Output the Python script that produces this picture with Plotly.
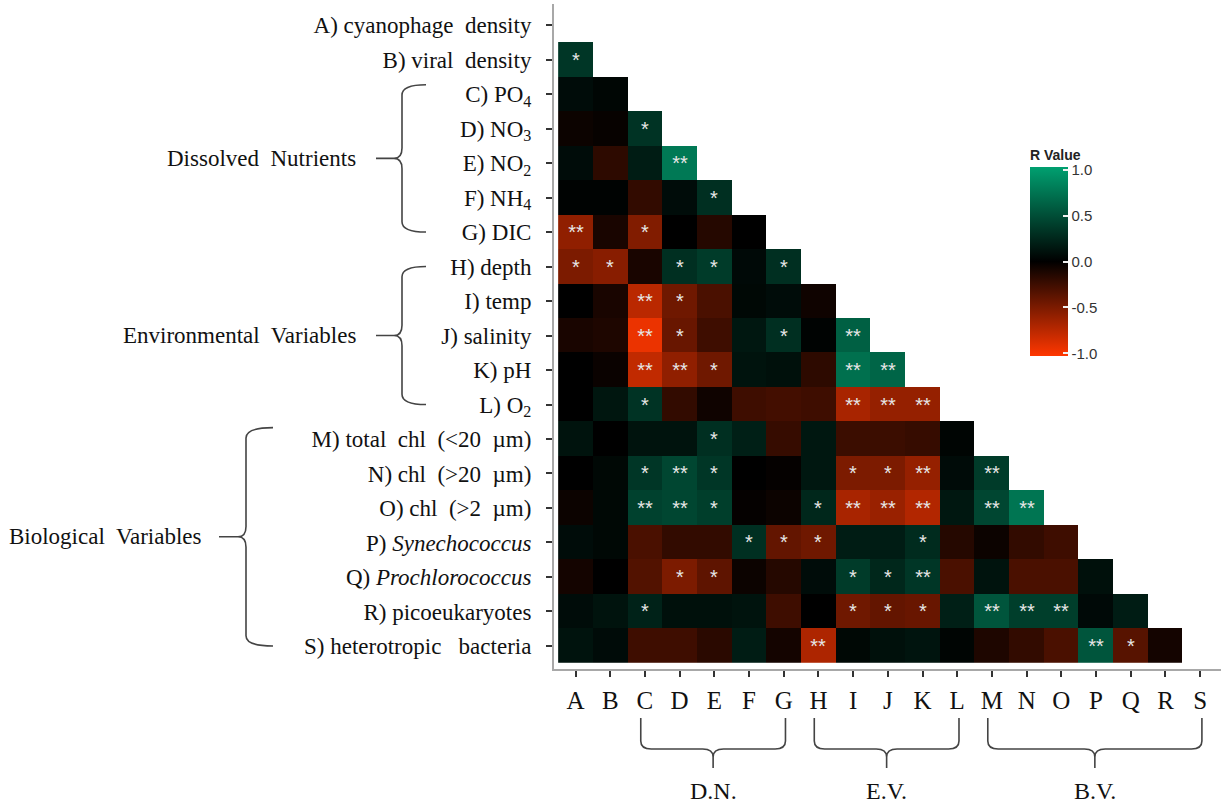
import plotly.graph_objects as go

# ---------------- data ----------------
codes = ["A", "B", "C", "D", "E", "F", "G", "H", "I", "J", "K", "L", "M", "N", "O", "P", "Q", "R", "S"]
var_names = ["cyanophage  density", "viral  density", "PO<sub>4</sub>", "NO<sub>3</sub>", "NO<sub>2</sub>",
             "NH<sub>4</sub>", "DIC", "depth", "temp", "salinity", "pH", "O<sub>2</sub>",
             "total  chl  (&lt;20  µm)", "chl  (&gt;20  µm)", "chl  (&gt;2  µm)", "<i>Synechococcus</i>",
             "<i>Prochlorococcus</i>", "picoeukaryotes", "heterotropic   bacteria"]

# lower-triangle R values (row variable vs. columns A.. up to the previous variable)
r_A = []
r_B = [0.35]
r_C = [0.08, 0.04]
r_D = [-0.05, -0.03, 0.33]
r_E = [0.08, -0.18, 0.18, 0.78]
r_F = [0.02, 0.02, -0.2, 0.08, 0.3]
r_G = [-0.58, -0.1, -0.52, 0.0, -0.15, 0.0]
r_H = [-0.5, -0.55, -0.1, 0.3, 0.38, 0.06, 0.3]
r_I = [0.0, -0.1, -0.75, -0.45, -0.3, 0.05, 0.08, -0.06]
r_J = [-0.1, -0.12, -0.95, -0.42, -0.25, 0.15, 0.3, 0.02, 0.62]
r_K = [0.0, -0.04, -0.78, -0.58, -0.45, 0.12, 0.1, -0.18, 0.72, 0.65]
r_L = [0.0, 0.14, 0.33, -0.2, -0.06, -0.25, -0.27, -0.25, -0.68, -0.6, -0.6]
r_M = [0.12, 0.0, 0.12, 0.12, 0.3, 0.2, -0.22, 0.15, -0.24, -0.24, -0.22, 0.03]
r_N = [0.0, 0.05, 0.35, 0.45, 0.35, 0.0, -0.02, 0.15, -0.5, -0.5, -0.6, 0.07, 0.38]
r_O = [-0.05, 0.05, 0.42, 0.45, 0.4, -0.02, -0.05, 0.25, -0.68, -0.62, -0.72, 0.15, 0.45, 0.75]
r_P = [0.08, 0.05, -0.3, -0.2, -0.2, 0.3, -0.4, -0.45, 0.18, 0.18, 0.28, -0.15, -0.05, -0.2, -0.25]
r_Q = [-0.08, 0.0, -0.33, -0.5, -0.38, -0.05, -0.15, 0.08, 0.38, 0.25, 0.35, -0.3, 0.12, -0.3, -0.3, 0.1]
r_R = [0.08, 0.12, 0.22, 0.1, 0.1, 0.12, -0.25, 0.0, -0.45, -0.4, -0.42, 0.2, 0.55, 0.4, 0.4, 0.06, 0.18]
r_S = [0.12, 0.07, -0.25, -0.25, -0.17, 0.18, -0.08, -0.7, 0.05, 0.1, 0.13, 0.03, -0.12, -0.2, -0.3, 0.55, -0.35, -0.08]

# significance marks
s_A = []
s_B = ["*"]
s_C = ["", ""]
s_D = ["", "", "*"]
s_E = ["", "", "", "**"]
s_F = ["", "", "", "", "*"]
s_G = ["**", "", "*", "", "", ""]
s_H = ["*", "*", "", "*", "*", "", "*"]
s_I = ["", "", "**", "*", "", "", "", ""]
s_J = ["", "", "**", "*", "", "", "*", "", "**"]
s_K = ["", "", "**", "**", "*", "", "", "", "**", "**"]
s_L = ["", "", "*", "", "", "", "", "", "**", "**", "**"]
s_M = ["", "", "", "", "*", "", "", "", "", "", "", ""]
s_N = ["", "", "*", "**", "*", "", "", "", "*", "*", "**", "", "**"]
s_O = ["", "", "**", "**", "*", "", "", "*", "**", "**", "**", "", "**", "**"]
s_P = ["", "", "", "", "", "*", "*", "*", "", "", "*", "", "", "", ""]
s_Q = ["", "", "", "*", "*", "", "", "", "*", "*", "**", "", "", "", "", ""]
s_R = ["", "", "*", "", "", "", "", "", "*", "*", "*", "", "**", "**", "**", "", ""]
s_S = ["", "", "", "", "", "", "", "**", "", "", "", "", "", "", "", "**", "*", ""]

row_values = [r_A, r_B, r_C, r_D, r_E, r_F, r_G, r_H, r_I, r_J, r_K, r_L, r_M, r_N, r_O, r_P, r_Q, r_R, r_S]
row_marks = [s_A, s_B, s_C, s_D, s_E, s_F, s_G, s_H, s_I, s_J, s_K, s_L, s_M, s_N, s_O, s_P, s_Q, s_R, s_S]

y_groups = [("Dissolved  Nutrients", 2, 6), ("Environmental  Variables", 7, 11), ("Biological  Variables", 12, 18)]
x_groups = [("D.N.", 2, 6), ("E.V.", 7, 11), ("B.V.", 12, 18)]

# ---------------- build matrices ----------------
n = len(codes)
z = [[None] * n for _ in range(n)]
txt = [[""] * n for _ in range(n)]
for i in range(n):
    for j, v in enumerate(row_values[i]):
        z[i][j] = v
        txt[i][j] = row_marks[i][j]

ticktext_y = [f"{c}) {nm}" for c, nm in zip(codes, var_names)]

# ---------------- layout geometry ----------------
W, H = 1225, 807
ML, MR, MT, MB = 554, 4, 4, 138
PW = W - ML - MR
PH = H - MT - MB


def px_x(px):
    return (px - ML) / PW


def px_y(py):
    return (H - MB - py) / PH


serif = "Liberation Serif"
sans = "Liberation Sans"

colorscale = [[0.0, "rgb(255,55,0)"], [0.5, "rgb(0,0,0)"], [1.0, "rgb(0,160,112)"]]

fig = go.Figure()
fig.add_trace(go.Heatmap(
    x=list(range(n)), y=list(range(n)), z=z, text=txt,
    texttemplate="%{text}",
    textfont=dict(family=sans, size=20, color="#e6e6e6"),
    colorscale=colorscale, zmin=-1.03, zmax=1.03,
    hoverongaps=False, xgap=0, ygap=0,
    colorbar=dict(
        title=dict(text="<b>R Value</b>", side="top", font=dict(family=sans, size=14, color="#222")),
        x=px_x(1030), xanchor="left", xpad=0,
        y=px_y(251), yanchor="middle", ypad=0,
        len=210, lenmode="pixels", thickness=38, thicknessmode="pixels",
        tickvals=[-1, -0.5, 0, 0.5, 1], ticktext=["-1.0", "-0.5", "0.0", "0.5", "1.0"],
        ticks="inside", ticklen=5, tickcolor="#f0f0f0", tickwidth=2,
        tickfont=dict(family=sans, size=15, color="#333"),
        outlinewidth=0,
    ),
))

shapes = []
annotations = []

# left braces
brace_pos = {
    "Dissolved  Nutrients": (426, 402, 376, 358, -0.27),
    "Environmental  Variables": (426, 402, 376, 358, 0.0),
    "Biological  Variables": (273, 246, 219, 204, -0.33),
}
for name, a, b in y_groups:
    xarm, xv, xtip, xtext, off = brace_pos[name]
    y0, y1 = a + off, b
    ym = (y0 + y1) / 2
    d = 0.3
    XA, XV, XT = px_x(xarm), px_x(xv), px_x(xtip)
    XC = px_x(xv - 8)
    path = (f"M {XA},{y0} Q {XV},{y0} {XV},{y0 + d} L {XV},{ym - d} "
            f"Q {XV},{ym} {XC},{ym} L {XT},{ym} M {XC},{ym} Q {XV},{ym} {XV},{ym + d} "
            f"L {XV},{y1 - d} Q {XV},{y1} {XA},{y1}")
    shapes.append(dict(type="path", path=path, xref="paper", yref="y",
                       line=dict(color="#444", width=1.6)))
    annotations.append(dict(text=name, x=px_x(xtext), y=ym, xref="paper", yref="y",
                            xanchor="right", yanchor="middle", showarrow=False,
                            font=dict(family=serif, size=23, color="#111")))

# bottom braces
yt, yh, ytip, ytext = px_y(718), px_y(749), px_y(768), px_y(791)
r = 8 / PH
for name, a, b in x_groups:
    x0, x1 = a - 0.12, b + 0.05
    xm = (x0 + x1) / 2
    dx = 0.3
    path = (f"M {x0},{yt} L {x0},{yh + r} Q {x0},{yh} {x0 + dx},{yh} L {xm - dx},{yh} "
            f"Q {xm},{yh} {xm},{yh - r} L {xm},{ytip} M {xm},{yh - r} Q {xm},{yh} {xm + dx},{yh} "
            f"L {x1 - dx},{yh} Q {x1},{yh} {x1},{yh + r} L {x1},{yt}")
    shapes.append(dict(type="path", path=path, xref="x", yref="paper",
                       line=dict(color="#444", width=1.6)))
    annotations.append(dict(text=name, x=xm, y=ytext, xref="x", yref="paper",
                            xanchor="center", yanchor="middle", showarrow=False,
                            font=dict(family=serif, size=24, color="#111")))

fig.update_layout(
    width=W, height=H,
    margin=dict(l=ML, r=MR, t=MT, b=MB),
    paper_bgcolor="white", plot_bgcolor="white",
    shapes=shapes, annotations=annotations,
    xaxis=dict(range=[-0.62, 18.6], tickmode="array", tickvals=list(range(n)), ticktext=codes,
               showgrid=False, zeroline=False, showline=True, linecolor="#a8a8a8", linewidth=2,
               ticks="outside", ticklen=6, tickwidth=2, tickcolor="#333",
               tickfont=dict(family=serif, size=25, color="#111"), ticklabelstandoff=2),
    yaxis=dict(range=[18.667, -0.609], tickmode="array", tickvals=list(range(n)), ticktext=ticktext_y,
               showgrid=False, zeroline=False, showline=True, linecolor="#a8a8a8", linewidth=2,
               ticks="outside", ticklen=6, tickwidth=2, tickcolor="#333",
               tickfont=dict(family=serif, size=23, color="#111"), ticklabelstandoff=10),
)

fig.write_html("out.html")
